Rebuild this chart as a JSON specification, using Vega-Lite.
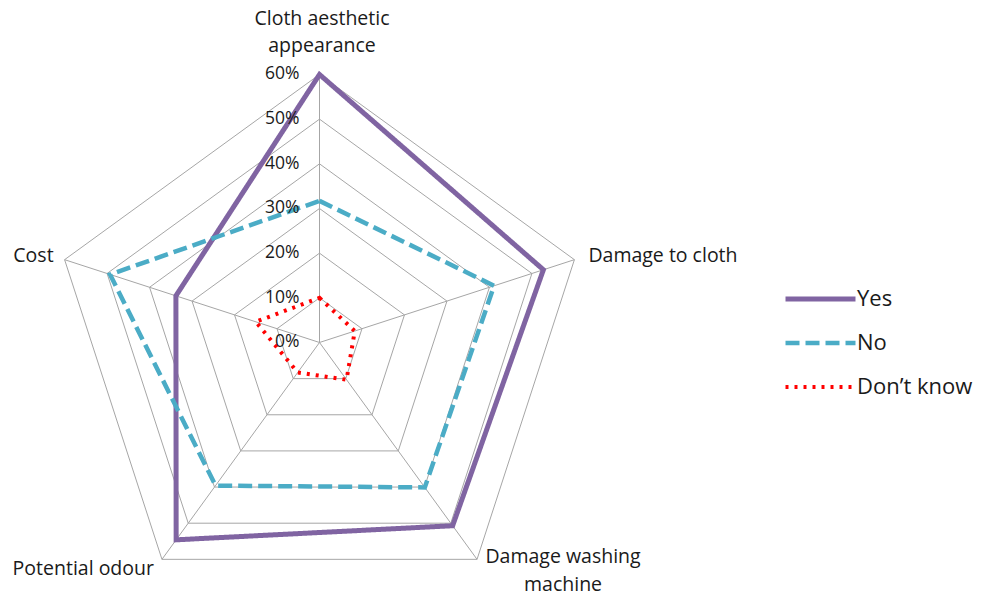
{
  "$schema": "https://vega.github.io/schema/vega-lite/v6.json",
  "width": 984,
  "height": 599,
  "autosize": {"type": "none"},
  "padding": 0,
  "config": {"view": {"stroke": null}, "font": "Open Sans", "text": {"color": "#1a1a1a"}},
  "datasets": {
    "series": [
      {"series": "Yes", "idx": 0, "category": "Cloth aesthetic appearance", "value": 0.60},
      {"series": "Yes", "idx": 1, "category": "Damage to cloth", "value": 0.527},
      {"series": "Yes", "idx": 2, "category": "Damage washing machine", "value": 0.507},
      {"series": "Yes", "idx": 3, "category": "Potential odour", "value": 0.546},
      {"series": "Yes", "idx": 4, "category": "Cost", "value": 0.338},
      {"series": "No", "idx": 0, "category": "Cloth aesthetic appearance", "value": 0.317},
      {"series": "No", "idx": 1, "category": "Damage to cloth", "value": 0.411},
      {"series": "No", "idx": 2, "category": "Damage washing machine", "value": 0.401},
      {"series": "No", "idx": 3, "category": "Potential odour", "value": 0.396},
      {"series": "No", "idx": 4, "category": "Cost", "value": 0.493},
      {"series": "Don’t know", "idx": 0, "category": "Cloth aesthetic appearance", "value": 0.10},
      {"series": "Don’t know", "idx": 1, "category": "Damage to cloth", "value": 0.083},
      {"series": "Don’t know", "idx": 2, "category": "Damage washing machine", "value": 0.103},
      {"series": "Don’t know", "idx": 3, "category": "Potential odour", "value": 0.083},
      {"series": "Don’t know", "idx": 4, "category": "Cost", "value": 0.15}
    ],
    "axes": [
      {"idx": 0, "category": "Cloth aesthetic appearance"},
      {"idx": 1, "category": "Damage to cloth"},
      {"idx": 2, "category": "Damage washing machine"},
      {"idx": 3, "category": "Potential odour"},
      {"idx": 4, "category": "Cost"}
    ],
    "rings": [
      {"level": 0.1, "idx": [0, 1, 2, 3, 4]},
      {"level": 0.2, "idx": [0, 1, 2, 3, 4]},
      {"level": 0.3, "idx": [0, 1, 2, 3, 4]},
      {"level": 0.4, "idx": [0, 1, 2, 3, 4]},
      {"level": 0.5, "idx": [0, 1, 2, 3, 4]},
      {"level": 0.6, "idx": [0, 1, 2, 3, 4]}
    ],
    "ticks": [
      {"level": 0}, {"level": 0.1}, {"level": 0.2}, {"level": 0.3},
      {"level": 0.4}, {"level": 0.5}, {"level": 0.6}
    ]
  },
  "encoding": {
    "x": {"field": "x", "type": "quantitative", "scale": {"domain": [-0.71525, 1.48758], "nice": false, "zero": false}, "axis": null},
    "y": {"field": "y", "type": "quantitative", "scale": {"domain": [-0.57421, 0.76673], "nice": false, "zero": false}, "axis": null}
  },
  "layer": [
    {
      "data": {"name": "rings"},
      "transform": [
        {"flatten": ["idx"]},
        {"calculate": "datum.idx * 2 * PI / 5", "as": "a"},
        {"calculate": "datum.level * sin(datum.a)", "as": "x"},
        {"calculate": "datum.level * cos(datum.a)", "as": "y"}
      ],
      "mark": {"type": "line", "interpolate": "linear-closed", "color": "#a6a6a6", "strokeWidth": 1},
      "encoding": {"detail": {"field": "level"}, "order": {"field": "idx"}}
    },
    {
      "data": {"name": "axes"},
      "transform": [
        {"calculate": "datum.idx * 2 * PI / 5", "as": "a"},
        {"calculate": "0", "as": "x"},
        {"calculate": "0", "as": "y"},
        {"calculate": "0.6 * sin(datum.a)", "as": "x2"},
        {"calculate": "0.6 * cos(datum.a)", "as": "y2"}
      ],
      "mark": {"type": "rule", "color": "#a6a6a6", "strokeWidth": 1},
      "encoding": {"x2": {"field": "x2"}, "y2": {"field": "y2"}}
    },
    {
      "data": {"name": "series"},
      "transform": [
        {"calculate": "datum.idx * 2 * PI / 5", "as": "a"},
        {"calculate": "datum.value * sin(datum.a)", "as": "x"},
        {"calculate": "datum.value * cos(datum.a)", "as": "y"}
      ],
      "mark": {"type": "line", "interpolate": "linear-closed", "strokeCap": "butt"},
      "encoding": {
        "order": {"field": "idx"},
        "color": {
          "field": "series", "type": "nominal",
          "scale": {"domain": ["Yes", "No", "Don’t know"], "range": ["#8064A2", "#4BACC6", "#FF0000"]},
          "legend": {
            "title": null, "orient": "none", "legendX": 783, "legendY": 277,
            "symbolType": "stroke", "symbolSize": 4900, "labelFontSize": 22,
            "labelColor": "#1a1a1a", "labelOffset": -1, "rowPadding": 0, "clipHeight": 44
          }
        },
        "strokeDash": {
          "field": "series", "type": "nominal",
          "scale": {"domain": ["Yes", "No", "Don’t know"], "range": [[1, 0], [14, 6], [3, 6]]},
          "legend": null
        },
        "strokeWidth": {
          "field": "series", "type": "nominal",
          "scale": {"domain": ["Yes", "No", "Don’t know"], "range": [5, 4, 3.5]},
          "legend": null
        }
      }
    },
    {
      "data": {"name": "ticks"},
      "transform": [
        {"calculate": "0", "as": "x"},
        {"calculate": "datum.level", "as": "y"}
      ],
      "mark": {"type": "text", "align": "right", "baseline": "middle", "dx": -20, "fontSize": 17.5},
      "encoding": {"text": {"field": "level", "type": "quantitative", "format": ".0%"}}
    },
    {
      "data": {"name": "axes"},
      "transform": [
        {"filter": "datum.idx == 0"},
        {"calculate": "0", "as": "x"},
        {"calculate": "0.6", "as": "y"}
      ],
      "mark": {"type": "text", "align": "center", "baseline": "middle", "dx": 2.5, "dy": -55, "fontSize": 19.5, "lineHeight": 27, "text": ["Cloth aesthetic", "appearance"]}
    },
    {
      "data": {"name": "axes"},
      "transform": [
        {"filter": "datum.idx == 1"},
        {"calculate": "0.6 * sin(datum.idx * 2 * PI / 5)", "as": "x"},
        {"calculate": "0.6 * cos(datum.idx * 2 * PI / 5)", "as": "y"}
      ],
      "mark": {"type": "text", "align": "left", "baseline": "middle", "dx": 14, "dy": -4, "fontSize": 19.5},
      "encoding": {"text": {"field": "category"}}
    },
    {
      "data": {"name": "axes"},
      "transform": [
        {"filter": "datum.idx == 2"},
        {"calculate": "0.6 * sin(datum.idx * 2 * PI / 5)", "as": "x"},
        {"calculate": "0.6 * cos(datum.idx * 2 * PI / 5)", "as": "y"}
      ],
      "mark": {"type": "text", "align": "center", "baseline": "middle", "dx": 86, "dy": -2, "fontSize": 19.5, "lineHeight": 28, "text": ["Damage washing", "machine"]}
    },
    {
      "data": {"name": "axes"},
      "transform": [
        {"filter": "datum.idx == 3"},
        {"calculate": "0.6 * sin(datum.idx * 2 * PI / 5)", "as": "x"},
        {"calculate": "0.6 * cos(datum.idx * 2 * PI / 5)", "as": "y"}
      ],
      "mark": {"type": "text", "align": "right", "baseline": "middle", "dx": -8, "dy": 10, "fontSize": 19.5},
      "encoding": {"text": {"field": "category"}}
    },
    {
      "data": {"name": "axes"},
      "transform": [
        {"filter": "datum.idx == 4"},
        {"calculate": "0.6 * sin(datum.idx * 2 * PI / 5)", "as": "x"},
        {"calculate": "0.6 * cos(datum.idx * 2 * PI / 5)", "as": "y"}
      ],
      "mark": {"type": "text", "align": "right", "baseline": "middle", "dx": -11, "dy": -4, "fontSize": 19.5},
      "encoding": {"text": {"field": "category"}}
    }
  ]
}
